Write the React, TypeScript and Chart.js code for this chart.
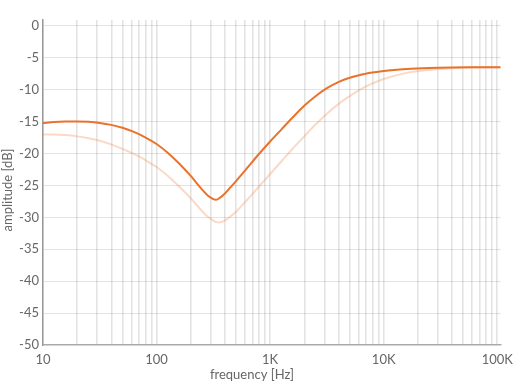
import React, { useEffect, useRef } from "react";
import { Chart, registerables } from "chart.js";

Chart.register(...registerables);

const frequencies = [
  10, 12.6, 15.8, 20, 25.1, 31.6, 39.8, 50.1, 63.1, 79.4,
  100, 126, 158, 200, 251, 282, 316, 331, 355, 398, 447,
  501, 631, 794, 1000, 1259, 1585, 1995, 2512, 3162, 3981,
  5012, 6310, 7943, 10000, 15849, 25119, 39811, 63096, 107150,
];

const amplitudeDark = [
  -15.2, -15.05, -14.97, -14.95, -15.02, -15.2, -15.5, -15.95, -16.6, -17.45,
  -18.5, -19.9, -21.55, -23.5, -25.6, -26.55, -27.12, -27.25, -27.02, -26.3, -25.3,
  -24.3, -22.2, -20.1, -18.1, -16.2, -14.3, -12.5, -11.0, -9.75, -8.8,
  -8.12, -7.63, -7.3, -7.05, -6.75, -6.58, -6.5, -6.47, -6.45,
];

const amplitudeLight = [
  -17.0, -17.0, -17.1, -17.3, -17.6, -18.0, -18.55, -19.25, -20.05, -21.0,
  -22.1, -23.5, -25.15, -27.0, -29.0, -29.9, -30.5, -30.7, -30.8, -30.5, -29.85,
  -29.1, -27.2, -25.2, -23.2, -21.2, -19.2, -17.3, -15.45, -13.75, -12.25,
  -11.0, -9.9, -9.0, -8.3, -7.35, -6.88, -6.62, -6.5, -6.46,
];

const xTickLabels: Record<number, string> = {
  10: "10",
  100: "100",
  1000: "1K",
  10000: "10K",
  100000: "100K",
};

const yTickValues = [-50, -45, -40, -35, -30, -25, -20, -15, -10, -5, 0];

const xTitle = "frequency [Hz]";
const yTitle = "amplitude [dB]";

const FONT = "Lato, 'Open Sans', sans-serif";

export default function App() {
  const ref = useRef<HTMLCanvasElement | null>(null);

  useEffect(() => {
    document.body.style.margin = "0";
    const canvas = ref.current;
    if (!canvas) return;

    const titlesPlugin = {
      id: "axisTitles",
      afterDraw(chart: any) {
        const ctx = chart.ctx;
        ctx.save();
        ctx.fillStyle = "#666";
        ctx.font = `13px ${FONT}`;
        ctx.textAlign = "center";
        ctx.textBaseline = "middle";
        ctx.fillText(xTitle, 252, 375);
        ctx.translate(8, 190);
        ctx.rotate(-Math.PI / 2);
        ctx.fillText(yTitle, 0, 0);
        ctx.restore();
      },
    };

    const chart = new Chart(canvas, {
      type: "line",
      data: {
        datasets: [
          {
            label: "dark",
            data: frequencies.map((f, i) => ({ x: f, y: amplitudeDark[i] })),
            borderColor: "#E8732C",
            borderWidth: 2,
            pointRadius: 0,
            cubicInterpolationMode: "monotone",
            fill: false,
            order: 0,
          },
          {
            label: "light",
            data: frequencies.map((f, i) => ({ x: f, y: amplitudeLight[i] })),
            borderColor: "rgba(240,140,80,0.32)",
            borderWidth: 2,
            pointRadius: 0,
            cubicInterpolationMode: "monotone",
            fill: false,
            order: 1,
          },
        ],
      },
      options: {
        animation: false,
        responsive: false,
        maintainAspectRatio: false,
        layout: { padding: { top: 20, right: 15, left: 0, bottom: 0 } },
        plugins: {
          legend: { display: false },
          tooltip: { enabled: false },
        },
        scales: {
          x: {
            type: "logarithmic",
            min: 10,
            max: 107150,
            afterBuildTicks(scale: any) {
              scale.ticks = scale.ticks.filter((t: any) => {
                const v = t.value;
                const p = Math.pow(10, Math.floor(Math.log10(v) + 1e-9));
                const m = v / p;
                return Math.abs(m - Math.round(m)) < 1e-6 && v <= 100000;
              });
            },
            afterFit(scale: any) {
              scale.height = 44;
            },
            grid: {
              color: "rgba(0,0,0,0.11)",
              lineWidth: 1.6,
              drawTicks: false,
            },
            border: { color: "#aaa", width: 1.2 },
            ticks: {
              autoSkip: false,
              maxRotation: 0,
              padding: 7,
              color: "#666",
              font: { family: FONT, size: 13 },
              callback: (v: any) => xTickLabels[Math.round(Number(v))] ?? "",
            },
            title: { display: false },
          },
          y: {
            type: "linear",
            min: -50,
            max: 0.94,
            afterBuildTicks(scale: any) {
              scale.ticks = yTickValues.map((v) => ({ value: v }));
            },
            afterFit(scale: any) {
              scale.width = 43;
            },
            grid: {
              color: "rgba(0,0,0,0.11)",
              lineWidth: 1,
              drawTicks: false,
            },
            border: { color: "#999", width: 1.5 },
            ticks: {
              padding: 4,
              color: "#666",
              font: { family: FONT, size: 13 },
            },
            title: { display: false },
          },
        },
      },
      plugins: [titlesPlugin],
    } as any);

    return () => chart.destroy();
  }, []);

  return <canvas ref={ref} width={520} height={389} style={{ display: "block" }} />;
}
